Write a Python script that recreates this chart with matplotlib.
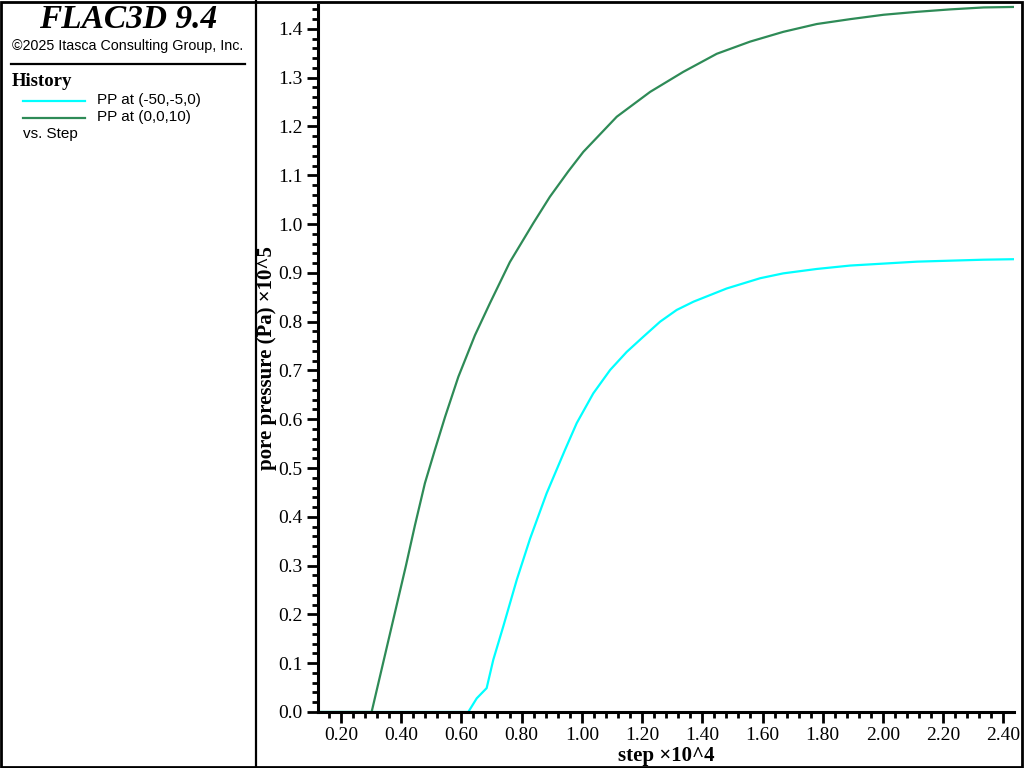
import numpy as np
import matplotlib
matplotlib.use('Agg')
import matplotlib.pyplot as plt
from matplotlib.ticker import MultipleLocator, FormatStrFormatter
from matplotlib.patches import Rectangle
from matplotlib.lines import Line2D

# step (x10^4) and pore pressure (x10^5 Pa)
step_a = [0.125, 0.623, 0.651, 0.684, 0.706, 0.739, 0.784, 0.828, 0.883, 0.944, 0.983,
          1.038, 1.094, 1.149, 1.204, 1.260, 1.315, 1.371, 1.481, 1.592, 1.669, 1.780,
          1.891, 2.002, 2.113, 2.223, 2.334, 2.434]
pp_a = [0.0, 0.0, 0.028, 0.049, 0.107, 0.175, 0.271, 0.355, 0.448, 0.537, 0.592,
        0.653, 0.701, 0.738, 0.769, 0.800, 0.824, 0.841, 0.868, 0.889, 0.899, 0.908,
        0.915, 0.919, 0.923, 0.925, 0.927, 0.928]

step_b = [0.125, 0.302, 0.416, 0.446, 0.479, 0.512, 0.546, 0.590, 0.645, 0.695, 0.761,
          0.839, 0.894, 0.955, 1.005, 1.116, 1.227, 1.337, 1.448, 1.559, 1.669, 1.780,
          1.891, 2.002, 2.113, 2.223, 2.334, 2.434]
pp_b = [0.0, 0.0, 0.300, 0.383, 0.469, 0.537, 0.605, 0.687, 0.772, 0.838, 0.922,
        1.002, 1.056, 1.108, 1.148, 1.220, 1.271, 1.312, 1.349, 1.374, 1.394, 1.410,
        1.420, 1.429, 1.435, 1.440, 1.444, 1.445]

labels = ['PP at (-50,-5,0)', 'PP at (0,0,10)']
colors = ['#00FFFF', '#2E8B57']

W, H = 1024, 768
fig = plt.figure(figsize=(W / 100, H / 100), dpi=100)

ax = fig.add_axes([318 / W, (H - 712) / H, (1014 - 318) / W, (712 - 5) / H])
ax.plot(step_a, pp_a, color=colors[0], lw=1.6)
ax.plot(step_b, pp_b, color=colors[1], lw=1.6)
ax.set_xlim(0.124, 2.435)
ax.set_ylim(0.0, 1.449)

ax.xaxis.set_major_locator(MultipleLocator(0.2))
ax.xaxis.set_minor_locator(MultipleLocator(0.04))
ax.yaxis.set_major_locator(MultipleLocator(0.1))
ax.yaxis.set_minor_locator(MultipleLocator(0.02))
ax.xaxis.set_major_formatter(FormatStrFormatter('%.2f'))
ax.yaxis.set_major_formatter(FormatStrFormatter('%.1f'))

for s in ['top', 'right']:
    ax.spines[s].set_visible(False)
for s in ['left', 'bottom']:
    ax.spines[s].set_linewidth(2.2)
ax.tick_params(which='major', direction='out', length=8, width=2, labelsize=14, pad=3)
ax.tick_params(which='minor', direction='out', length=4, width=2)
for lab in ax.get_xticklabels() + ax.get_yticklabels():
    lab.set_family('Liberation Serif')

ax.set_xlabel('step ×10^4', family='Liberation Serif', fontweight='bold', fontsize=15, labelpad=1)
ax.set_ylabel('pore pressure (Pa) ×10^5', family='Liberation Serif', fontweight='bold', fontsize=15, labelpad=1)

# frame and left panel
fig.patches.append(Rectangle((1 / W, 1 / H), (W - 3) / W, (H - 3) / H, transform=fig.transFigure,
                             fill=False, edgecolor='black', lw=2))
fig.add_artist(Line2D([256 / W, 256 / W], [0, 1], color='black', lw=1.6))
fig.add_artist(Line2D([11 / W, 245 / W], [1 - 64 / H, 1 - 64 / H], color='black', lw=1.6))

fig.text(128 / W, 1 - 19 / H, 'FLAC3D 9.4', family='Liberation Serif', fontweight='bold',
         style='italic', fontsize=24, ha='center', va='center')
fig.text(128 / W, 1 - 46 / H, '©2025 Itasca Consulting Group, Inc.', family='Liberation Sans',
         fontsize=10.3, ha='center', va='center')
fig.text(12 / W, 1 - 82 / H, 'History', family='Liberation Serif', fontweight='bold',
         fontsize=13.5, ha='left', va='center')
for i, (lab, c) in enumerate(zip(labels, colors)):
    yy = 1 - (101 + 17 * i) / H
    fig.add_artist(Line2D([23 / W, 85 / W], [yy, yy], color=c, lw=1.6))
    fig.text(97 / W, yy + 1 / H, lab, family='Liberation Sans', fontsize=11, ha='left', va='center')
fig.text(23 / W, 1 - 134 / H, 'vs. Step', family='Liberation Sans', fontsize=11, ha='left', va='center')

fig.savefig('out.png', dpi=100)
